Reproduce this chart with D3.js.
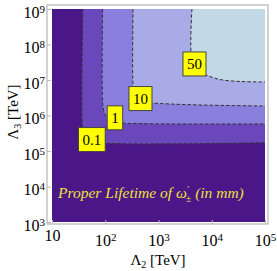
<!DOCTYPE html>
<html lang="en">
<head>
    <meta charset="UTF-8">
    <title>Proper lifetime contours</title>
    <style>
        body { margin: 0; background: #fff; }
        svg text { font-family: "Liberation Serif", "Times New Roman", serif; }
        .axis path { display: none; }
        .axis line { stroke: #bbb; }
        .contour { fill: none; stroke: #333; stroke-width: 1; stroke-dasharray: 3.5,2; }
        .tag rect { fill: #ffff00; stroke: #444; stroke-width: 1; }
    </style>
</head>
<body>
    <svg id="chart" width="277" height="271"></svg>

    <script src="https://d3js.org/d3.v7.min.js"></script>
    <script>
        // tick values (TeV)
        const lam2Ticks = [10, 1e2, 1e3, 1e4, 1e5];
        const lam3Ticks = [1e3, 1e4, 1e5, 1e6, 1e7, 1e8, 1e9];

        // contour lines of proper lifetime, [Λ2, Λ3] in TeV
        const contour01 = [[38, 1e9], [38, 3.0e5], [41, 2.0e5], [60, 1.72e5], [1e5, 1.7e5]];
        const contour1 = [[89, 1e9], [89, 2.9e6], [94, 1.35e6], [110, 8.4e5], [140, 6.5e5], [292, 6.0e5], [1e5, 5.8e5]];
        const contour10 = [[332, 1e9], [332, 7.2e6], [354, 3.3e6], [520, 2.4e6], [1067, 2.18e6], [6000, 1.98e6], [1e5, 1.85e6]];
        const contour50 = [[4250, 1e9], [4250, 3.6e7], [5520, 1.68e7], [7800, 1.38e7], [14300, 1.03e7], [33900, 9.1e6], [1e5, 8.8e6]];

        const contours = [contour01, contour1, contour10, contour50];
        const levelColors = ["#4b1687", "#6a48bb", "#8a7fdd", "#a9abe6", "#c1d8e7"];

        // contour labels: text, Λ2, Λ3
        const labelText = ["0.1", "1", "10", "50"];
        const labelPos = [[56, 2.1e5], [152, 8.6e5], [459, 3.0e6], [4740, 2.83e7]];

        const svg = d3.select("#chart");

        const x = d3.scaleLog().domain([10, 1e5]).range([52, 265]);
        const y = d3.scaleLog().domain([1e3, 1e9]).range([222, 9]);

        svg.append("clipPath").attr("id", "plotClip")
            .append("rect")
            .attr("x", x(10)).attr("y", y(1e9))
            .attr("width", x(1e5) - x(10)).attr("height", y(1e3) - y(1e9));

        const plot = svg.append("g").attr("clip-path", "url(#plotClip)");

        // lowest level fills everything
        plot.append("rect")
            .attr("x", x(10)).attr("y", y(1e9))
            .attr("width", x(1e5) - x(10)).attr("height", y(1e3) - y(1e9))
            .attr("fill", levelColors[0]);

        const line = d3.line()
            .x(d => x(d[0]))
            .y(d => y(d[1]))
            .curve(d3.curveCatmullRom.alpha(0.5));

        // each higher level is the area above/right of its contour
        contours.forEach((c, i) => {
            plot.append("path")
                .attr("d", line(c) + "L" + x(1e5) + "," + y(1e9) + "Z")
                .attr("fill", levelColors[i + 1]);
        });

        contours.forEach(c => {
            plot.append("path").attr("class", "contour").attr("d", line(c));
        });

        // frame
        svg.append("rect")
            .attr("x", 47).attr("y", 5)
            .attr("width", 221).attr("height", 219)
            .attr("fill", "none").attr("stroke", "#bbb").attr("stroke-width", 1.3);

        // axes
        const xAxis = svg.append("g")
            .attr("class", "axis")
            .attr("transform", "translate(0,224)")
            .call(d3.axisBottom(x).tickValues(lam2Ticks).tickSizeInner(-4).tickSizeOuter(0).tickFormat(""));

        const yAxis = svg.append("g")
            .attr("class", "axis")
            .attr("transform", "translate(47,0)")
            .call(d3.axisLeft(y).tickValues(lam3Ticks).tickSizeInner(-4).tickSizeOuter(0).tickFormat(""));

        function powerLabel(sel, v) {
            const e = Math.round(Math.log10(v));
            sel.text("10");
            if (e !== 1) {
                sel.append("tspan").attr("dy", "-0.45em").style("font-size", "11px").text(e);
            }
        }

        xAxis.selectAll(".tick text")
            .attr("y", d => Math.round(Math.log10(d)) === 1 ? 17 : 22)
            .attr("dy", 0)
            .style("font-size", "16px")
            .attr("fill", "#000")
            .each(function (d) { powerLabel(d3.select(this), d); });

        yAxis.selectAll(".tick text")
            .attr("x", -2)
            .attr("dy", "0.5em")
            .style("font-size", "16px")
            .attr("fill", "#000")
            .each(function (d) { powerLabel(d3.select(this), d); });

        // axis titles
        const xTitle = svg.append("text")
            .attr("x", 158).attr("y", 265)
            .attr("text-anchor", "middle")
            .style("font-size", "15px");
        xTitle.append("tspan").text("Λ");
        xTitle.append("tspan").attr("dy", 3).style("font-size", "10px").text("2");
        xTitle.append("tspan").attr("dy", -3).text(" [TeV]");

        const yTitle = svg.append("text")
            .attr("transform", "translate(18,112) rotate(-90)")
            .attr("text-anchor", "middle")
            .style("font-size", "15px");
        yTitle.append("tspan").text("Λ");
        yTitle.append("tspan").attr("dy", 3).style("font-size", "10px").text("3");
        yTitle.append("tspan").attr("dy", -3).text(" [TeV]");

        // contour tags
        const tags = svg.selectAll(".tag")
            .data(labelText)
            .enter().append("g")
            .attr("class", "tag")
            .attr("transform", (d, i) => "translate(" + x(labelPos[i][0]) + "," + y(labelPos[i][1]) + ")");

        tags.append("text")
            .attr("text-anchor", "middle")
            .attr("dy", "0.34em")
            .style("font-size", "15px")
            .text(d => d);

        tags.each(function () {
            const g = d3.select(this);
            const bb = g.select("text").node().getBBox();
            g.insert("rect", "text")
                .attr("x", bb.x - 4).attr("y", -12)
                .attr("width", bb.width + 8).attr("height", 24);
        });

        // annotation
        const note = svg.append("text")
            .attr("x", x(13)).attr("y", y(4.7e3))
            .attr("fill", "#ece23a")
            .style("font-size", "15.5px")
            .style("font-style", "italic");
        note.append("tspan").text("Proper Lifetime of ω");
        note.append("tspan").attr("dy", -6).attr("dx", 0).style("font-size", "9px").text("'");
        note.append("tspan").attr("dy", 10).attr("dx", -3).style("font-size", "10px").text("±");
        note.append("tspan").attr("dy", -4).text(" (in mm)");
    </script>
</body>
</html>
